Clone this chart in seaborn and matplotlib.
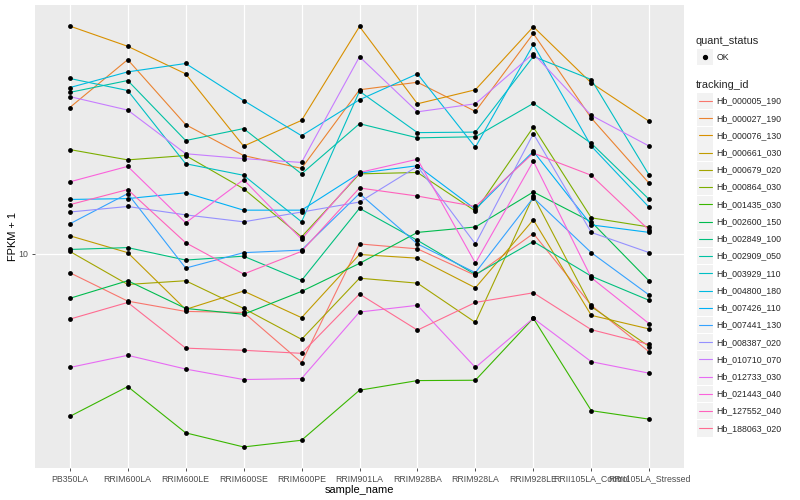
import numpy as np
import pandas as pd
import matplotlib
matplotlib.use("Agg")
import matplotlib.pyplot as plt
import seaborn as sns
from matplotlib.lines import Line2D
from matplotlib.patches import Rectangle
from matplotlib.ticker import NullLocator

# Samples on the x axis, in plotting order
samples = ["PB350LA", "RRIM600LA", "RRIM600LE", "RRIM600SE", "RRIM600PE",
           "RRIM901LA", "RRIM928BA", "RRIM928LA", "RRIM928LE",
           "RRII105LA_Control", "RRII105LA_Stressed"]

tracking_ids = ["Hb_000005_190", "Hb_000027_190", "Hb_000076_130", "Hb_000661_030",
                "Hb_000679_020", "Hb_000864_030", "Hb_001435_030", "Hb_002600_150",
                "Hb_002849_100", "Hb_002909_050", "Hb_003929_110", "Hb_004800_180",
                "Hb_007426_110", "Hb_007441_130", "Hb_008387_020", "Hb_010710_070",
                "Hb_012733_030", "Hb_021443_040", "Hb_127552_040", "Hb_188063_020"]

# ggplot default hue palette for 20 levels
colors = ["#F8766D", "#EA8331", "#D89000", "#C09B00", "#A3A500", "#7CAE00", "#39B600",
          "#00BB4E", "#00BF7D", "#00C1A3", "#00BFC4", "#00BAE0", "#00B0F6", "#35A2FF",
          "#9590FF", "#C77CFF", "#E76BF3", "#FA62DB", "#FF62BC", "#FF6C91"]

# FPKM + 1 per sample
hb_000005_190 = [8.66, 6.96, 6.43, 6.38, 4.34, 10.8, 10.4, 8.48, 11.7, 6.74, 4.71]
hb_000027_190 = [30.8, 44.5, 27.0, 21.3, 19.3, 35.3, 37.4, 29.9, 54.4, 28.4, 17.2]
hb_000076_130 = [57.6, 49.3, 39.9, 22.9, 27.9, 57.4, 31.7, 35.3, 57.3, 37.2, 27.7]
hb_000661_030 = [11.5, 10.1, 6.53, 7.52, 6.13, 9.96, 9.68, 7.71, 13.0, 6.24, 5.62]
hb_000679_020 = [10.2, 7.91, 8.14, 6.58, 5.19, 8.30, 7.99, 5.91, 15.6, 6.67, 4.91]
hb_000864_030 = [22.3, 20.6, 21.3, 16.5, 11.4, 18.5, 18.7, 13.9, 26.5, 13.2, 12.3]
hb_001435_030 = [2.87, 3.61, 2.53, 2.27, 2.39, 3.51, 3.78, 3.79, 6.10, 3.00, 2.81]
hb_002600_150 = [7.11, 8.14, 6.58, 6.29, 7.50, 9.30, 11.8, 12.3, 16.1, 12.8, 8.12]
hb_002849_100 = [10.35, 10.5, 9.54, 9.83, 8.16, 14.2, 11.1, 8.54, 11.0, 8.43, 7.00]
hb_002909_050 = [34.6, 37.9, 23.9, 26.2, 18.5, 27.2, 24.4, 24.6, 31.8, 23.4, 15.2]
hb_003929_110 = [38.5, 35.1, 20.0, 18.3, 12.8, 34.9, 25.4, 25.5, 45.6, 38.2, 18.3]
hb_004800_180 = [35.9, 40.5, 43.2, 32.5, 24.8, 32.7, 39.9, 22.7, 50.0, 22.9, 14.3]
hb_007426_110 = [15.2, 15.3, 16.0, 14.0, 14.0, 18.6, 19.7, 14.1, 22.0, 12.5, 11.8]
hb_007441_130 = [12.6, 15.9, 8.97, 10.1, 10.3, 15.9, 10.8, 8.66, 15.4, 10.1, 7.29]
hb_008387_020 = [13.8, 14.4, 13.5, 12.8, 13.8, 14.9, 19.6, 10.8, 25.2, 11.8, 10.1]
hb_010710_070 = [33.5, 30.2, 21.6, 20.8, 20.2, 45.5, 29.8, 31.7, 46.6, 29.0, 22.9]
hb_012733_030 = [4.18, 4.59, 4.13, 3.81, 3.84, 6.40, 6.74, 4.18, 6.10, 4.37, 4.00]
hb_021443_040 = [17.4, 19.6, 12.7, 17.7, 11.2, 18.7, 20.7, 9.32, 20.4, 8.33, 5.85]
hb_127552_040 = [14.6, 16.4, 10.9, 8.57, 10.2, 16.6, 15.6, 14.4, 21.7, 18.3, 12.0]
hb_188063_020 = [6.06, 6.89, 4.85, 4.77, 4.66, 7.35, 5.57, 6.89, 7.42, 5.59, 4.99]

series = [hb_000005_190, hb_000027_190, hb_000076_130, hb_000661_030, hb_000679_020,
          hb_000864_030, hb_001435_030, hb_002600_150, hb_002849_100, hb_002909_050,
          hb_003929_110, hb_004800_180, hb_007426_110, hb_007441_130, hb_008387_020,
          hb_010710_070, hb_012733_030, hb_021443_040, hb_127552_040, hb_188063_020]

rows = []
for tid, vals in zip(tracking_ids, series):
    for s, v in zip(samples, vals):
        rows.append((tid, s, v, "OK"))
df = pd.DataFrame(rows, columns=["tracking_id", "sample_name", "fpkm1", "quant_status"])
df["sample_name"] = pd.Categorical(df["sample_name"], categories=samples, ordered=True)

sns.set_theme(style="darkgrid")
plt.rcParams['font.family'] = ['Liberation Sans', 'DejaVu Sans']

W, H = 800, 500
fig = plt.figure(figsize=(8, 5), dpi=100)
ax = fig.add_axes([35 / W, 32 / H, 649 / W, 463 / H])
ax.set_facecolor("#EBEBEB")

sns.lineplot(data=df, x="sample_name", y="fpkm1", hue="tracking_id",
             hue_order=tracking_ids, palette=dict(zip(tracking_ids, colors)),
             sort=False, legend=False, linewidth=0.8, errorbar=None, ax=ax)
sns.scatterplot(data=df, x="sample_name", y="fpkm1", color="black", s=12,
                linewidth=0, legend=False, ax=ax, zorder=3)

ax.set_yscale("log")
lo, hi = np.log10(df["fpkm1"].min()), np.log10(df["fpkm1"].max())
pad = 0.05 * (hi - lo)
ax.set_ylim(10 ** (lo - pad), 10 ** (hi + pad))
ax.set_xlim(-0.6, len(samples) - 0.4)
ax.set_yticks([10])
ax.set_yticklabels(["10"])
ax.yaxis.set_minor_locator(NullLocator())
ax.set_xticks(range(len(samples)))
ax.set_xticklabels(samples)

ax.grid(True, which="major", color="white", linewidth=0.9)
for sp in ax.spines.values():
    sp.set_visible(False)
ax.tick_params(axis="both", length=2.5, width=0.6, color="#333333",
               labelsize=6.3, labelcolor="#4D4D4D", pad=2.2)
ax.tick_params(axis="x", bottom=True)
ax.tick_params(axis="y", left=True)

ax.set_xlabel("sample_name", fontsize=7.9, color="black")
ax.set_ylabel("FPKM + 1", fontsize=7.9, color="black")
ax.xaxis.set_label_coords(0.5, -0.036)
ax.yaxis.set_label_coords(-0.026, 0.5)


# legends drawn by hand in pixel positions (ggplot style keys)
def fx(x):
    return x / W


def fy(y):
    return 1 - y / H


fig.text(fx(696), fy(40.5), "quant_status", fontsize=7.9, va="center", ha="left")
fig.patches.append(Rectangle((fx(697), fy(65)), 16 / W, 16 / H, transform=fig.transFigure,
                             facecolor="#F2F2F2", edgecolor="none"))
fig.lines.append(Line2D([fx(705)], [fy(57)], transform=fig.transFigure, marker="o",
                        markersize=2.8, color="black", linestyle="none"))
fig.text(fx(716.5), fy(57), "OK", fontsize=6.3, va="center", ha="left")

fig.text(fx(696), fy(84.5), "tracking_id", fontsize=7.9, va="center", ha="left")
step = 17.23
for i, (tid, col) in enumerate(zip(tracking_ids, colors)):
    yc = 101 + i * step
    fig.patches.append(Rectangle((fx(697), fy(yc + 8.2)), 16 / W, 16.4 / H,
                                 transform=fig.transFigure, facecolor="#F2F2F2",
                                 edgecolor="none"))
    fig.lines.append(Line2D([fx(698.5), fx(711.5)], [fy(yc), fy(yc)],
                            transform=fig.transFigure, color=col, linewidth=0.8))
    fig.text(fx(716.5), fy(yc), tid, fontsize=6.3, va="center", ha="left")

fig.savefig("out.png", dpi=100)
